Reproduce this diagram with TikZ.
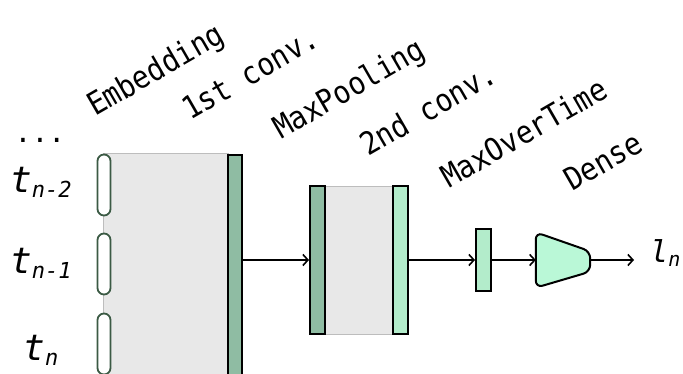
\documentclass[tikz,border=0pt]{standalone}
\usepackage{fontspec}
\usepackage{graphicx}
\usetikzlibrary{arrows.meta}
\newfontfamily\labfont{DejaVu Sans Mono}
\definecolor{convdark}{HTML}{8FBCA3}
\definecolor{convlight}{HTML}{B3ECCB}
\definecolor{densefill}{HTML}{BAF8D7}
\definecolor{embfill}{HTML}{E8E8E8}
\definecolor{embline}{HTML}{BDBDBD}
\definecolor{capline}{HTML}{3B5A44}
\newcommand\tokA[2]{{\labfont\itshape\fontsize{36}{40}\selectfont #1\raisebox{-5pt}{\fontsize{22}{24}\selectfont #2}}}
\newcommand\lablift[1]{\scalebox{1}[1.12]{#1}}
\begin{document}
\begin{tikzpicture}[x=1pt,y=-1pt,
  embbox/.style={draw=embline, fill=embfill, line width=0.8pt, inner sep=0},
  darkbar/.style={draw=black, fill=convdark, line width=2pt, inner sep=0},
  lightbar/.style={draw=black, fill=convlight, line width=2pt, inner sep=0},
  capsule/.style={draw=capline, fill=white, line width=1.8pt, inner sep=0, minimum width=13pt, minimum height=61pt, rounded corners=6.5pt},
  densestyle/.style={draw=black, fill=densefill, line width=2pt, rounded corners=7pt},
  arr/.style={line width=1.6pt, -{Straight Barb[length=5pt,width=11pt,line width=1.6pt]}},
  lab/.style={font=\labfont\fontsize{28}{30}\selectfont, rotate=30, anchor=base west, inner sep=0},
  tok/.style={anchor=base, inner sep=0}]
\useasboundingbox (0,0) rectangle (683,374);
\clip (0,0) rectangle (683,374);

% embedding block and first convolution
\node[embbox, anchor=north west, minimum width=125pt, minimum height=240pt] (emb) at (103,153) {};
\node[darkbar, anchor=north west, minimum width=14pt, minimum height=240pt] (conv1) at (227,154) {};
\node[capsule] (c1) at (104,185) {};
\node[capsule] (c2) at (104,264) {};
\node[capsule] (c3) at (104,344) {};

% pooling + second convolution
\node[embbox, minimum width=70pt, minimum height=148pt] (block2) at (359,260) {};
\node[darkbar, minimum width=15pt, minimum height=148pt] (pool) at (317.5,260) {};
\node[lightbar, minimum width=15pt, minimum height=148pt] (conv2) at (400.5,260) {};

% max over time
\node[lightbar, minimum width=15pt, minimum height=62pt] (mot) at (483.5,260) {};

% dense
\node[inner sep=0, minimum width=54pt, minimum height=55pt] (dense) at (563,260) {};
\draw[densestyle] (dense.north west) -- ([yshift=-19pt]dense.north east)
  -- ([yshift=16pt]dense.south east) -- (dense.south west) -- cycle;

% output
\node[anchor=base west, inner sep=0] (ln) at (650,263)
  {\labfont\itshape\fontsize{30}{32}\selectfont l\raisebox{-4pt}{\fontsize{20}{22}\selectfont n}};

% connectors
\draw[arr] (conv1.east |- pool.west) -- (pool.west);
\draw[arr] (conv2.east) -- (mot.west);
\draw[arr] (mot.east) -- (dense.west);
\draw[arr] (dense.east) -- ([xshift=-16pt]dense.east -| ln.west);

% input tokens
\node[tok, font=\labfont\fontsize{28}{30}\selectfont] (dots) at (40,143) {...};
\node[tok] (t2) at (41,193) {\tokA{t}{n-2}};
\node[tok] (t1) at (41,274) {\tokA{t}{n-1}};
\node[tok] (t0) at (41,360) {\tokA{t}{n}};

% layer labels
\node[lab] (lemb) at (95,117) {\lablift{Embedding}};
\node[lab] (lconv1) at (190,121) {\lablift{1st conv.}};
\node[lab] (lpool) at (281,140) {\lablift{MaxPooling}};
\node[lab] (lconv2) at (368,157) {\lablift{2nd conv.}};
\node[lab] (lmot) at (449,189) {\lablift{MaxOverTime}};
\node[lab] (ldense) at (572,192) {\lablift{Dense}};
\end{tikzpicture}
\end{document}
